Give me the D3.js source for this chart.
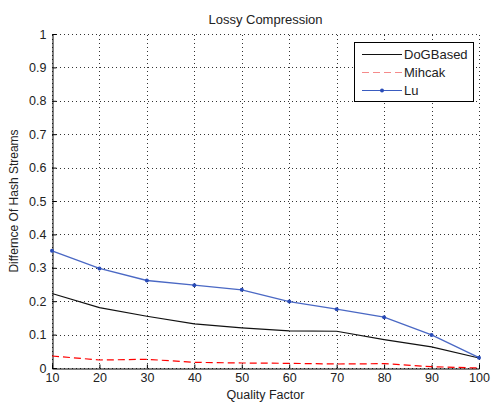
<!DOCTYPE html>
<html>
<head>
<meta charset="utf-8">
<script src="https://cdn.jsdelivr.net/npm/d3@7"></script>
<style>
  body { margin: 0; background: #fff; }
  text { font-family: "Liberation Sans", Arial, sans-serif; fill: #222; }
</style>
</head>
<body>
<script>
// Data
const quality = [10, 20, 30, 40, 50, 60, 70, 80, 90, 100];
const dogBased = [0.223, 0.181, 0.155, 0.132, 0.120, 0.111, 0.110, 0.085, 0.063, 0.030];
const mihcak = [0.036, 0.024, 0.026, 0.017, 0.015, 0.014, 0.012, 0.013, 0.004, 0.000];
const lu = [0.351, 0.298, 0.262, 0.248, 0.234, 0.199, 0.176, 0.152, 0.099, 0.031];
const yTicks = [0, 0.1, 0.2, 0.3, 0.4, 0.5, 0.6, 0.7, 0.8, 0.9, 1];
const seriesNames = ['DoGBased', 'Mihcak', 'Lu'];

let width = 492, height = 403;
let margin = { top: 34, bottom: 35, left: 52, right: 13 };

let svg = d3.select('body')
    .append('svg')
    .attr('width', width)
    .attr('height', height);

let xScale = d3.scaleLinear()
    .domain([10, 100])
    .range([margin.left, width - margin.right]);

let yScale = d3.scaleLinear()
    .domain([0, 1])
    .range([height - margin.bottom, margin.top]);

// dotted grid
svg.append('g').selectAll('line')
    .data(quality)
    .enter()
    .append('line')
    .attr('x1', d => Math.round(xScale(d)) + 0.5)
    .attr('x2', d => Math.round(xScale(d)) + 0.5)
    .attr('y1', yScale(0))
    .attr('y2', yScale(1))
    .style('stroke', '#333')
    .style('stroke-dasharray', '1,3');

svg.append('g').selectAll('line')
    .data(yTicks)
    .enter()
    .append('line')
    .attr('y1', d => Math.round(yScale(d)) + 0.5)
    .attr('y2', d => Math.round(yScale(d)) + 0.5)
    .attr('x1', xScale(10))
    .attr('x2', xScale(100))
    .style('stroke', '#333')
    .style('stroke-dasharray', '1,3');

// axes
let xAxis = svg.append('g')
    .attr('transform', `translate(0, ${Math.round(yScale(0)) + 0.5})`)
    .call(d3.axisBottom(xScale).tickValues(quality).tickSize(-4).tickPadding(6));

let yAxis = svg.append('g')
    .attr('transform', `translate(${Math.round(xScale(10)) + 0.5}, 0)`)
    .call(d3.axisLeft(yScale).tickValues(yTicks).tickSize(-4).tickPadding(6)
        .tickFormat(d => d === 0 || d === 1 ? d3.format('d')(d) : d3.format('.1f')(d)));

[xAxis, yAxis].forEach(a => {
    a.select('.domain').style('stroke', '#000');
    a.selectAll('.tick line').style('stroke', '#000');
    a.selectAll('.tick text').style('font-size', '12.5px').style('fill', '#222')
        .style('font-family', '"Liberation Sans", Arial, sans-serif');
});
xAxis.selectAll('.tick text').attr('dy', '0.6em');

// lines
let line = d3.line()
    .x((d, i) => xScale(quality[i]))
    .y(d => yScale(d));

svg.append('path')
    .datum(dogBased)
    .attr('d', line)
    .style('fill', 'none')
    .style('stroke', '#111')
    .style('stroke-width', 1.2);

svg.append('path')
    .datum(mihcak)
    .attr('d', line)
    .style('fill', 'none')
    .style('stroke', '#f00')
    .style('stroke-width', 1.2)
    .style('stroke-dasharray', '7,4');

svg.append('path')
    .datum(lu)
    .attr('d', line)
    .style('fill', 'none')
    .style('stroke', '#4a68c4')
    .style('stroke-width', 1.3);

svg.append('g').selectAll('circle')
    .data(lu)
    .enter()
    .append('circle')
    .attr('cx', (d, i) => xScale(quality[i]))
    .attr('cy', d => yScale(d))
    .attr('r', 2)
    .style('fill', '#2a4cb8');

// title and labels
svg.append('text')
    .attr('x', (xScale(10) + xScale(100)) / 2)
    .attr('y', 24)
    .attr('text-anchor', 'middle')
    .style('font-size', '13px')
    .text('Lossy Compression');

svg.append('text')
    .attr('x', (xScale(10) + xScale(100)) / 2)
    .attr('y', 399)
    .attr('text-anchor', 'middle')
    .style('font-size', '12.5px')
    .text('Quality Factor');

svg.append('text')
    .attr('transform', `translate(18, ${(yScale(0) + yScale(1)) / 2}) rotate(-90)`)
    .attr('text-anchor', 'middle')
    .style('font-size', '12px')
    .text('Differnce Of Hash Streams');

// legend
let legend = svg.append('g');
legend.append('rect')
    .attr('x', 354.5)
    .attr('y', 42.5)
    .attr('width', 119)
    .attr('height', 59)
    .style('fill', '#fff')
    .style('stroke', '#000');

let legendStyles = [
    { color: '#111', dash: null, marker: false },
    { color: '#f58a8a', dash: '7,4', marker: false },
    { color: '#3a5cc0', dash: null, marker: true }
];

seriesNames.forEach((name, i) => {
    let y = 54 + i * 18;
    legend.append('line')
        .attr('x1', 362).attr('x2', 402)
        .attr('y1', y + 0.5).attr('y2', y + 0.5)
        .style('stroke', legendStyles[i].color)
        .style('stroke-width', 1.2)
        .style('stroke-dasharray', legendStyles[i].dash);
    if (legendStyles[i].marker) {
        legend.append('circle')
            .attr('cx', 382).attr('cy', y + 0.5).attr('r', 2)
            .style('fill', '#2a4cb8');
    }
    legend.append('text')
        .attr('x', 404)
        .attr('y', y + 4.5)
        .style('font-size', '13px')
        .text(name);
});
</script>
</body>
</html>
